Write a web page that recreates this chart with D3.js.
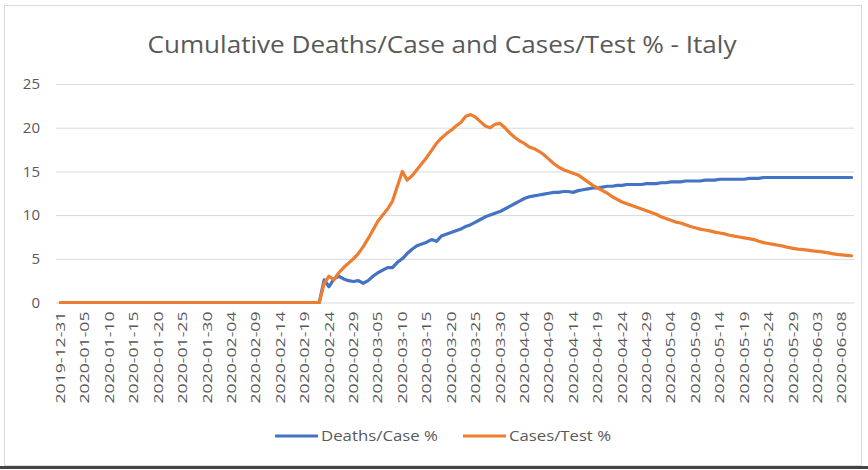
<!DOCTYPE html>
<html><head><meta charset="utf-8">
<script src="https://cdn.jsdelivr.net/npm/d3@7"></script>
<style>body{margin:0;background:#fff}svg{display:block}</style>
</head><body>
<script>
// ---- data ----
const startDate = "2019-12-31";
const endDate = "2020-06-10";
const yTicks = [0, 5, 10, 15, 20, 25];
const xTickLabels = ["2019-12-31","2020-01-05","2020-01-10","2020-01-15","2020-01-20","2020-01-25","2020-01-30","2020-02-04","2020-02-09","2020-02-14","2020-02-19","2020-02-24","2020-02-29","2020-03-05","2020-03-10","2020-03-15","2020-03-20","2020-03-25","2020-03-30","2020-04-04","2020-04-09","2020-04-14","2020-04-19","2020-04-24","2020-04-29","2020-05-04","2020-05-09","2020-05-14","2020-05-19","2020-05-24","2020-05-29","2020-06-03","2020-06-08"];
const deathsPerCase = [
0,0,0,0,0,0,0,0,0,0,
0,0,0,0,0,0,0,0,0,0,
0,0,0,0,0,0,0,0,0,0,
0,0,0,0,0,0,0,0,0,0,
0,0,0,0,0,0,0,0,0,0,
0,0,0,0,
2.6,1.8,2.7,3.0,2.7,2.5,2.4,2.5,2.2,2.5,
3.0,3.4,3.7,4.0,4.0,4.6,5.0,5.6,6.1,6.5,
6.7,6.9,7.2,7.0,7.6,7.8,8.0,8.2,8.4,8.7,
8.9,9.2,9.5,9.8,10.0,10.2,10.4,10.7,11.0,11.3,
11.6,11.9,12.1,12.2,12.3,12.4,12.5,12.6,12.6,12.7,
12.7,12.6,12.8,12.9,13.0,13.1,13.1,13.2,13.3,13.3,
13.4,13.4,13.5,13.5,13.5,13.5,13.6,13.6,13.6,13.7,
13.7,13.8,13.8,13.8,13.9,13.9,13.9,13.9,14.0,14.0,
14.0,14.1,14.1,14.1,14.1,14.1,14.1,14.2,14.2,14.2,
14.3,14.3,14.3,14.3,14.3,14.3,14.3,14.3,14.3,14.3,
14.3,14.3,14.3,14.3,14.3,14.3,14.3,14.3,14.3];
const casesPerTest = [
0,0,0,0,0,0,0,0,0,0,
0,0,0,0,0,0,0,0,0,0,
0,0,0,0,0,0,0,0,0,0,
0,0,0,0,0,0,0,0,0,0,
0,0,0,0,0,0,0,0,0,0,
0,0,0,0,
2.2,3.0,2.6,3.4,4.0,4.5,5.0,5.6,6.4,7.3,
8.3,9.3,10.0,10.7,11.6,13.3,15.0,14.0,14.5,15.2,
15.9,16.6,17.4,18.2,18.8,19.3,19.7,20.2,20.6,21.3,
21.5,21.2,20.7,20.2,20.0,20.4,20.5,20.0,19.4,18.9,
18.5,18.2,17.8,17.6,17.3,16.9,16.4,15.9,15.5,15.2,
15.0,14.8,14.6,14.2,13.8,13.4,13.1,12.8,12.5,12.1,
11.8,11.5,11.3,11.1,10.9,10.7,10.5,10.3,10.1,9.8,
9.6,9.4,9.2,9.1,8.9,8.7,8.55,8.4,8.3,8.2,
8.05,7.95,7.85,7.7,7.6,7.5,7.4,7.3,7.2,7.0,
6.85,6.75,6.65,6.55,6.45,6.3,6.2,6.1,6.05,6.0,
5.9,5.85,5.8,5.7,5.6,5.5,5.45,5.4,5.35];
const seriesNames = ["Deaths/Case %", "Cases/Test %"];
const seriesColors = ["#4472C4", "#ED7D31"];

// ---- categories ----
const fmt = d3.utcFormat("%Y-%m-%d");
const p = d3.utcParse("%Y-%m-%d");
const categories = d3.utcDay.range(p(startDate), d3.utcDay.offset(p(endDate), 1)).map(fmt);

const W = 868, H = 470;
const svg = d3.select("body").append("svg").attr("width", W).attr("height", H);

// frame
svg.append("rect").attr("x", 4.5).attr("y", 5.5).attr("width", 857).attr("height", 460)
  .attr("fill", "#fff").attr("stroke", "#d9d9d9");
svg.append("line").attr("x1", 0).attr("x2", W).attr("y1", 467.5).attr("y2", 467.5)
  .attr("stroke", "#444").attr("stroke-width", 3);

const x = d3.scaleBand().domain(categories).range([58, 854]);
const y = d3.scaleLinear().domain([0, 25]).range([302.5, 84]);
const cx = d => x(d) + x.bandwidth() / 2;

// title
svg.append("text").attr("x", 442).attr("y", 53).attr("text-anchor", "middle")
  .attr("font-family", "Open Sans, sans-serif").attr("font-size", 24).attr("fill", "#595959")
  .attr("textLength", 589).attr("lengthAdjust", "spacingAndGlyphs")
  .text("Cumulative Deaths/Case and Cases/Test % - Italy");

// gridlines + y axis
const yAxis = d3.axisLeft(y).tickValues(yTicks).tickSize(-(854 - 56)).tickFormat(d3.format("d"));
const gy = svg.append("g").attr("transform", "translate(56,0)").call(yAxis);
gy.select(".domain").remove();
gy.selectAll(".tick line").attr("stroke", "#d9d9d9").attr("stroke-width", 1);
gy.selectAll(".tick text").attr("x", -16).attr("fill", "#595959")
  .attr("font-family", "Open Sans, sans-serif").attr("font-size", 15);

// x axis labels
const xAxis = d3.axisBottom(x).tickValues(xTickLabels).tickSize(0);
const gx = svg.append("g").attr("transform", "translate(0,302.5)").call(xAxis);
gx.select(".domain").remove();
gx.selectAll(".tick text")
  .attr("transform", "rotate(-90)").attr("text-anchor", "end")
  .attr("x", -9).attr("y", 0).attr("dy", "0.35em")
  .attr("fill", "#595959").attr("font-family", "Open Sans, sans-serif").attr("font-size", 13)
  .attr("textLength", 92).attr("lengthAdjust", "spacingAndGlyphs");

// lines
const line = d3.line().x((d, i) => cx(categories[i])).y(d => y(d));
[deathsPerCase, casesPerTest].forEach((s, k) => {
  svg.append("path").datum(s).attr("d", line).attr("fill", "none")
    .attr("stroke", seriesColors[k]).attr("stroke-width", 3.2)
    .attr("stroke-linejoin", "round").attr("stroke-linecap", "round");
});

// legend
const legendX = [275, 463];
const legendTextLen = [117, 102];
seriesNames.forEach((n, k) => {
  const g = svg.append("g").attr("transform", `translate(${legendX[k]},436)`);
  g.append("line").attr("x1", 0).attr("x2", 43).attr("stroke", seriesColors[k]).attr("stroke-width", 3);
  g.append("text").attr("x", 46).attr("y", 0).attr("dy", "0.35em").attr("fill", "#595959")
    .attr("font-family", "Open Sans, sans-serif").attr("font-size", 15)
    .attr("textLength", legendTextLen[k]).attr("lengthAdjust", "spacingAndGlyphs").text(n);
});
</script>
</body></html>
